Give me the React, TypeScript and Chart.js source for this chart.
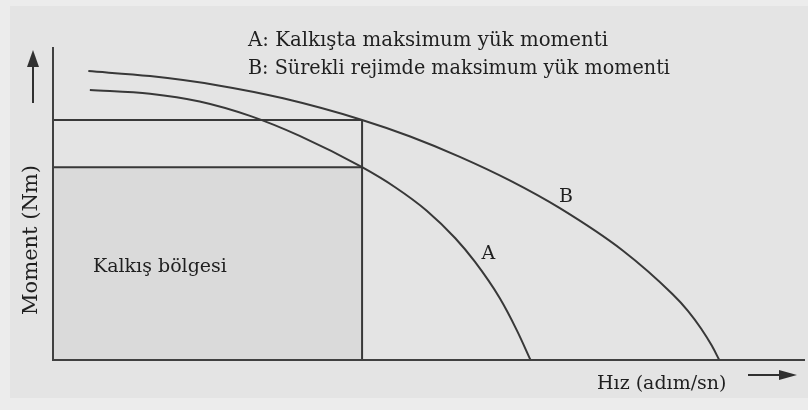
import React, { useEffect, useRef } from "react";
import { Chart, registerables } from "chart.js";

Chart.register(...registerables);

// Speed (adım/sn, relative units) and torque (Nm, relative units) samples
const SPEED_A = [4.9, 12.9, 19.5, 26.2, 32.8, 41.1, 45.5, 49.7, 53.5, 56.1, 59.4, 61.7, 63.5];
const TORQUE_A = [86.3, 85.1, 82.6, 78.0, 71.6, 61.6, 55.2, 47.7, 38.9, 31.4, 19.8, 9.4, 0];

const SPEED_B = [4.7, 12.9, 21.8, 30.6, 41.1, 47.5, 54.1, 60.8, 67.4, 75.8, 82.4, 84.4, 86.2, 87.6, 88.6];
const TORQUE_B = [92.3, 90.7, 87.8, 83.6, 76.7, 71.4, 64.9, 57.3, 48.5, 34.9, 21.0, 15.8, 10.0, 4.6, 0];

// Start region: speed limit and the two torque limits (on curves A and B)
const START_SPEED = 41.1;
const START_TORQUE_A = 61.6;
const START_TORQUE_B = 76.7;

const LEGEND_LINES = [
  "A: Kalkışta maksimum yük momenti",
  "B: Sürekli rejimde maksimum yük momenti",
];
const REGION_LABEL = "Kalkış bölgesi";
const X_TITLE = "Hız (adım/sn)";
const Y_TITLE = "Moment (Nm)";
const CURVE_LABELS = [
  { text: "A", x: 57.9, y: 32.3 },
  { text: "B", x: 68.2, y: 50.5 },
];

const toPoints = (xs: number[], ys: number[]) => xs.map((x, i) => ({ x, y: ys[i] }));

const INK = "#1f1f1f";
const LINE = "#383838";
const FONT = "'DejaVu Serif', 'Liberation Serif', serif";

const decorations = {
  id: "decorations",
  beforeDraw(chart: any) {
    const { ctx, width, height } = chart;
    ctx.save();
    ctx.fillStyle = "#ececec";
    ctx.fillRect(0, 0, width, height);
    ctx.fillStyle = "#e4e4e4";
    ctx.fillRect(10, 6, width - 10, height - 18);
    ctx.restore();
  },
  afterDatasetsDraw(chart: any) {
    const { ctx, chartArea, scales } = chart;
    const { left, right, top, bottom } = chartArea;
    const xs = scales.x;
    const ys = scales.y;
    ctx.save();

    // axes
    ctx.strokeStyle = "#404040";
    ctx.lineWidth = 2;
    ctx.beginPath();
    ctx.moveTo(left, top);
    ctx.lineTo(left, bottom);
    ctx.lineTo(right, bottom);
    ctx.stroke();

    // direction arrows
    ctx.fillStyle = "#303030";
    ctx.strokeStyle = "#303030";
    ctx.lineWidth = 2;
    ctx.beginPath();
    ctx.moveTo(left - 20, top + 56);
    ctx.lineTo(left - 20, top + 18);
    ctx.stroke();
    ctx.beginPath();
    ctx.moveTo(left - 20, top + 3);
    ctx.lineTo(left - 26, top + 20);
    ctx.lineTo(left - 14, top + 20);
    ctx.closePath();
    ctx.fill();

    ctx.beginPath();
    ctx.moveTo(right - 57, bottom + 15);
    ctx.lineTo(right - 24, bottom + 15);
    ctx.stroke();
    ctx.beginPath();
    ctx.moveTo(right - 8, bottom + 15);
    ctx.lineTo(right - 26, bottom + 10);
    ctx.lineTo(right - 26, bottom + 20);
    ctx.closePath();
    ctx.fill();

    // texts
    ctx.fillStyle = INK;
    ctx.textBaseline = "alphabetic";
    ctx.textAlign = "left";
    ctx.font = `20px ${FONT}`;
    ctx.fillText(LEGEND_LINES[0], 248, 46, 360);
    ctx.fillText(LEGEND_LINES[1], 248, 74, 422);

    ctx.font = `19px ${FONT}`;
    ctx.fillText(REGION_LABEL, 93, 272, 134);
    ctx.fillText(X_TITLE, 597, 389, 133);

    for (const l of CURVE_LABELS) {
      ctx.textAlign = "center";
      ctx.fillText(l.text, xs.getPixelForValue(l.x), ys.getPixelForValue(l.y));
    }

    ctx.save();
    ctx.translate(37, 240);
    ctx.rotate(-Math.PI / 2);
    ctx.textAlign = "center";
    ctx.font = `21px ${FONT}`;
    ctx.fillText(Y_TITLE, 0, 0, 160);
    ctx.restore();

    ctx.restore();
  },
};

export default function App() {
  const canvasRef = useRef<HTMLCanvasElement | null>(null);

  useEffect(() => {
    const canvas = canvasRef.current;
    if (!canvas) return;
    const edge = { showLine: true, borderColor: LINE, borderWidth: 2, pointRadius: 0 };
    const chart = new Chart(canvas, {
      type: "scatter",
      data: {
        datasets: [
          {
            // shaded start region, bounded above by curve A's limit
            ...edge,
            order: 1,
            data: [
              { x: 0, y: START_TORQUE_A },
              { x: START_SPEED, y: START_TORQUE_A },
            ],
            fill: "origin",
            backgroundColor: "#dadada",
          },
          {
            ...edge,
            data: [
              { x: 0, y: START_TORQUE_B },
              { x: START_SPEED, y: START_TORQUE_B },
            ],
          },
          {
            ...edge,
            data: [
              { x: START_SPEED, y: 0 },
              { x: START_SPEED, y: START_TORQUE_B },
            ],
          },
          {
            ...edge,
            label: "A",
            data: toPoints(SPEED_A, TORQUE_A),
            cubicInterpolationMode: "monotone",
          },
          {
            ...edge,
            label: "B",
            data: toPoints(SPEED_B, TORQUE_B),
            cubicInterpolationMode: "monotone",
          },
        ],
      },
      options: {
        animation: false,
        responsive: false,
        layout: { padding: { left: 53, right: 3, top: 47, bottom: 50 } },
        scales: {
          x: { type: "linear", min: 0, max: 100, display: false },
          y: { type: "linear", min: 0, max: 100, display: false },
        },
        plugins: {
          legend: { display: false },
          tooltip: { enabled: false },
        },
      },
      plugins: [decorations],
    });
    return () => chart.destroy();
  }, []);

  return (
    <div style={{ position: "fixed", left: 0, top: 0, width: 808, height: 410 }}>
      <canvas ref={canvasRef} width={808} height={410} />
    </div>
  );
}
